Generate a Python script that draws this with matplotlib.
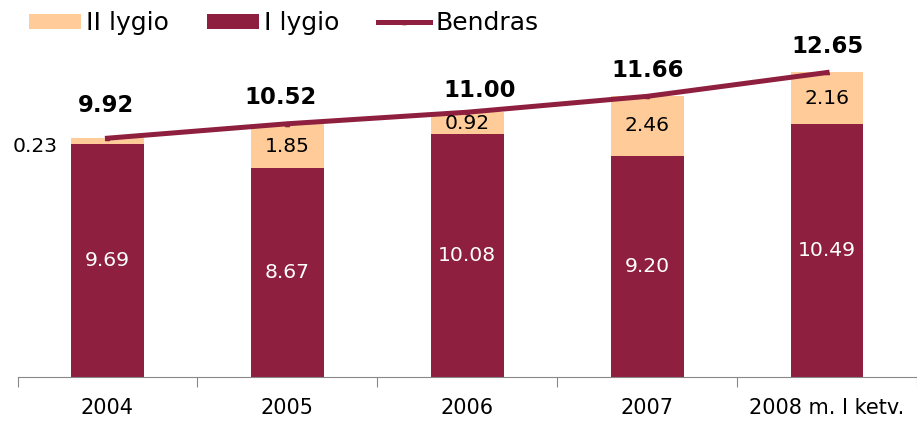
import numpy as np
import matplotlib.pyplot as plt

years = ["2004", "2005", "2006", "2007", "2008 m. I ketv."]
lygis1 = [9.69, 8.67, 10.08, 9.20, 10.49]
lygis2 = [0.23, 1.85, 0.92, 2.46, 2.16]
bendras = [9.92, 10.52, 11.00, 11.66, 12.65]

RED = "#8E1F3E"
PEACH = "#FFCC99"
# label nudges (x in categories, y in data units) as placed in the original
tot_dx = [-0.01, -0.04, 0.07, 0.0, 0.0]
tot_dy = [1.34, 1.09, 0.92, 1.09, 1.10]

plt.rcParams["font.family"] = ["DejaVu Sans"]

fig = plt.figure(figsize=(9.17, 4.24), dpi=100)
ax = fig.add_axes([17.5 / 917, 47 / 424, 1 - 17.5 / 917, 337 / 424])

x = np.arange(len(years))
w = 0.405
b2 = ax.bar(x, lygis2, w, bottom=lygis1, color=PEACH, label="II lygio")
b1 = ax.bar(x, lygis1, w, color=RED, label="I lygio")
ln, = ax.plot(x, bendras, color=RED, lw=3.6, marker="^", ms=3, label="Bendras")

for i in range(len(x)):
    ax.text(x[i], lygis1[i] / 2, f"{lygis1[i]:.2f}", ha="center", va="center",
            color="white", fontsize=14.6)
    if lygis2[i] < 0.5:
        ax.text(x[i] - 0.40, lygis1[i] + lygis2[i] / 2 - 0.25, f"{lygis2[i]:.2f}",
                ha="center", va="center", fontsize=14.6)
    else:
        ax.text(x[i], lygis1[i] + lygis2[i] / 2, f"{lygis2[i]:.2f}", ha="center",
                va="center", fontsize=14.6)
    ax.text(x[i] + tot_dx[i], bendras[i] + tot_dy[i], f"{bendras[i]:.2f}",
            ha="center", va="center", fontsize=16.4, fontweight="bold")

ax.set_ylim(0, 14)
ax.set_xlim(-0.5, 4.5 - 9.5 / 182)
ax.set_yticks([])
for s in ["top", "right", "left"]:
    ax.spines[s].set_visible(False)
ax.spines["bottom"].set_color("#888888")
ax.set_xticks(np.arange(-0.5, 4.6, 1))
ax.set_xticklabels([])
ax.tick_params(axis="x", which="major", length=7, color="#888888")
ax.set_xticks(x, minor=True)
ax.set_xticklabels(years, minor=True, fontsize=15)
ax.tick_params(axis="x", which="minor", length=0, pad=15)

fig.legend([b2, b1, ln], ["II lygio", "I lygio", "Bendras"], loc="center left",
           bbox_to_anchor=(28.5 / 917, 1 - 23 / 424), ncol=3, frameon=False,
           fontsize=18, handlelength=2.08, handleheight=0.56, columnspacing=1.55,
           handletextpad=0.2, borderpad=0, borderaxespad=0)

fig.savefig("out.png", dpi=100)
